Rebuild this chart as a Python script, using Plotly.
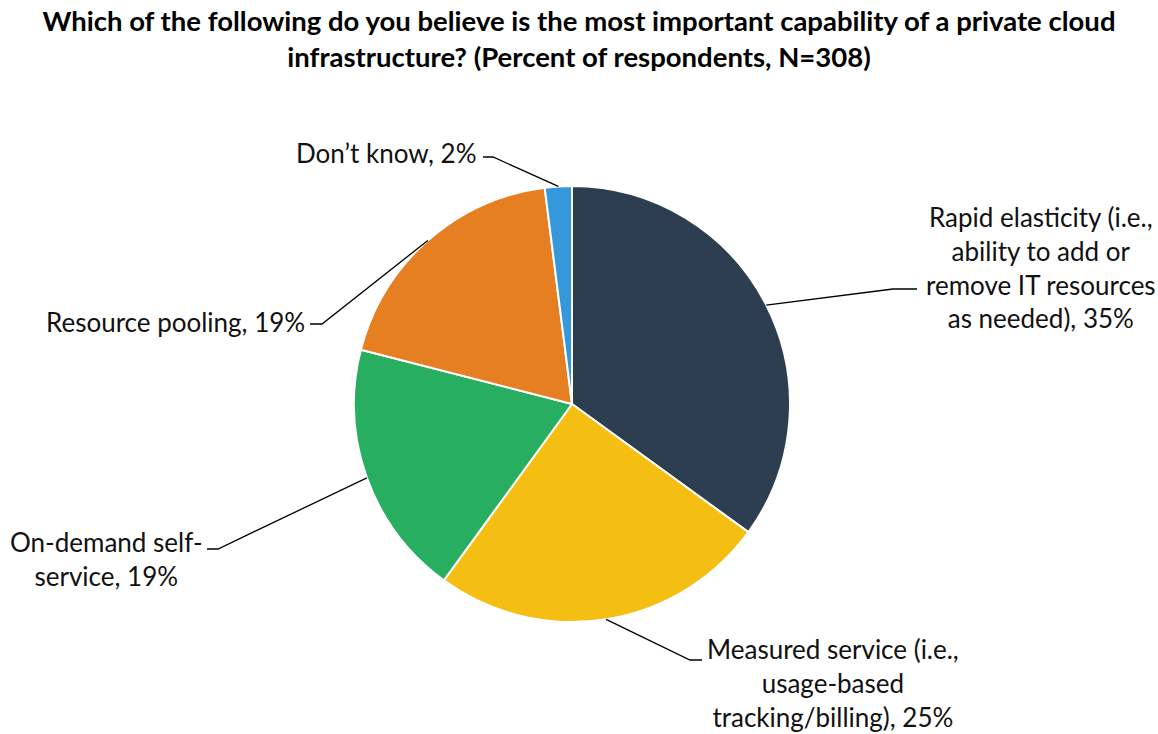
import math
import plotly.graph_objects as go

# ---- data ----
categories = [
    "Rapid elasticity (i.e.,<br>ability to add or<br>remove IT resources<br>as needed)",
    "Measured service (i.e.,<br>usage-based<br>tracking/billing)",
    "On-demand self-<br>service",
    "Resource pooling",
    "Don’t know",
]
values = [35, 25, 19, 19, 2]
colors = ["#2C3E50", "#F5BE12", "#27AE60", "#E67E22", "#3498DB"]
title_text = ("Which of the following do you believe is the most important capability of a private cloud"
              "<br>infrastructure? (Percent of respondents, N=308)")

# ---- layout geometry (pixels) ----
W, H = 1158, 734
CX, CY, R = 572, 404, 218
FONT = "Lato"

# label placement: (anchor_x, anchor_y, xanchor, elbow_x, elbow_y, end_x)
label_layout = [
    (924, 267, "left", 893, 289, 917),
    (705, 683, "left", 690, 660, 702),
    (205, 559, "right", 218, 549, 207),
    (307, 322, "right", 322, 324, 310),
    (479, 153, "right", 493, 157, 483),
]


def px(x):
    return x / W


def py(y):
    return 1 - y / H


fig = go.Figure()
fig.add_trace(go.Pie(
    labels=[c.replace("<br>", " ") for c in categories],
    values=values,
    sort=False,
    direction="clockwise",
    rotation=0,
    textinfo="none",
    hoverinfo="label+percent",
    marker=dict(colors=colors, line=dict(color="white", width=2)),
    domain=dict(x=[px(CX - R), px(CX + R)], y=[py(CY + R), py(CY - R)]),
    showlegend=False,
))

total = sum(values)
cum = 0
annotations = []
shapes = []
for cat, v, (ax, ay, xa, ex, ey, endx) in zip(categories, values, label_layout):
    mid = (cum + v / 2) / total * 2 * math.pi
    cum += v
    edge_x = CX + R * math.sin(mid)
    edge_y = CY - R * math.cos(mid)
    shapes.append(dict(
        type="path", xref="paper", yref="paper",
        path=f"M {px(edge_x)},{py(edge_y)} L {px(ex)},{py(ey)} L {px(endx)},{py(ey)}",
        line=dict(color="#000000", width=1.3),
    ))
    annotations.append(dict(
        text=f"{cat}, {v}%", xref="paper", yref="paper",
        x=px(ax), y=py(ay), xanchor=xa, yanchor="middle", align="center",
        showarrow=False, font=dict(family=FONT, size=26, color="#111111"),
    ))

fig.update_layout(
    width=W, height=H,
    margin=dict(l=0, r=0, t=0, b=0),
    paper_bgcolor="white", plot_bgcolor="white",
    title=dict(text=f"<b>{title_text}</b>", x=0.5, xanchor="center",
               y=py(31), yanchor="middle", yref="container",
               font=dict(family=FONT, size=27.5, color="#000000")),
    annotations=annotations,
    shapes=shapes,
)

fig.write_html("out.html")
